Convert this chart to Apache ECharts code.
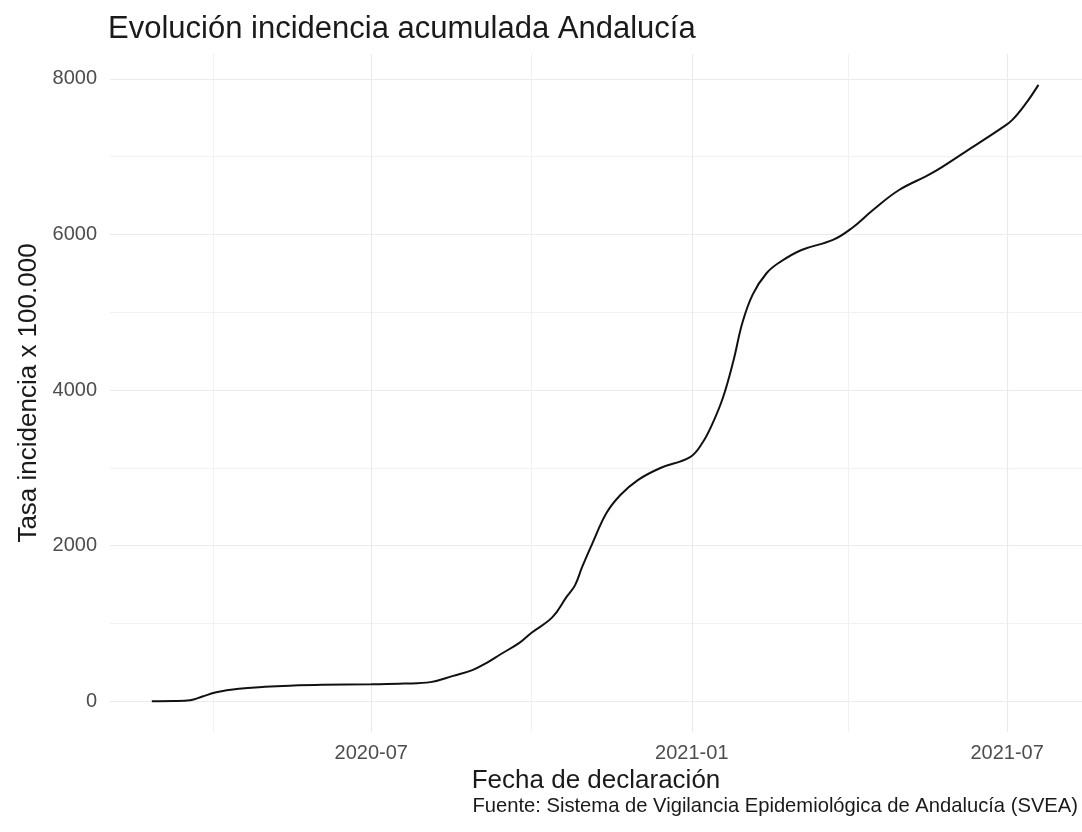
<!DOCTYPE html>
<html>
<head>
<meta charset="utf-8">
<script src="https://cdn.jsdelivr.net/npm/echarts@6/dist/echarts.min.js"></script>
<style>
html,body{margin:0;padding:0;background:#ffffff;}
#chart{width:1082px;height:832px;}
</style>
</head>
<body>
<div id="chart"></div>
<script>
// ---- data ----
const dates = [
  '2020-02-26','2020-03-10','2020-03-19','2020-03-26','2020-04-03','2020-04-16',
  '2020-05-01','2020-05-15','2020-06-03','2020-07-01','2020-07-20','2020-08-04',
  '2020-08-17','2020-08-28','2020-09-05','2020-09-13','2020-09-24','2020-10-01',
  '2020-10-13','2020-10-21','2020-10-26','2020-10-30','2020-11-05','2020-11-13',
  '2020-11-21','2020-12-01','2020-12-14','2020-12-31','2021-01-07','2021-01-13',
  '2021-01-19','2021-01-25','2021-01-30','2021-02-05','2021-02-13','2021-02-21',
  '2021-03-05','2021-03-23','2021-04-03','2021-04-15','2021-04-30','2021-05-19',
  '2021-06-07','2021-06-28','2021-07-04','2021-07-12','2021-07-19'
];
const values = [
  0, 2, 12, 60, 115, 160,
  185, 200, 212, 218, 226, 245,
  325, 400, 490, 600, 750, 880,
  1080, 1337, 1492, 1723, 2032, 2418,
  2650, 2842, 2997, 3138, 3318, 3575,
  3910, 4386, 4861, 5230, 5504, 5650,
  5800, 5929, 6083, 6314, 6571, 6790,
  7062, 7369, 7472, 7690, 7922
];
const yTickValues = [0, 2000, 4000, 6000, 8000];
const yMinorValues = [1000, 3000, 5000, 7000];
const xTickDates = ['2020-07-01', '2021-01-01', '2021-07-01'];
const xMinorDates = ['2020-04-01', '2020-10-01', '2021-04-01'];
const titleText = 'Evolución incidencia acumulada Andalucía';
const xTitle = 'Fecha de declaración';
const yTitle = 'Tasa incidencia x 100.000';
const captionText = 'Fuente: Sistema de Vigilancia Epidemiológica de Andalucía (SVEA)';

// ---- helpers ----
function ts(s) { const p = s.split('-').map(Number); return new Date(p[0], p[1] - 1, p[2]).getTime(); }
function fmtYM(v) { const d = new Date(v); return d.getFullYear() + '-' + String(d.getMonth() + 1).padStart(2, '0'); }

const seriesData = dates.map((d, i) => [ts(d), values[i]]);
const FONT = 'Liberation Sans, Arial, sans-serif';
const GRID = '#ebebeb';

const gridLines = []
  .concat(yTickValues.map(v => ({ yAxis: v, lineStyle: { color: GRID, width: 1.2, type: 'solid' } })))
  .concat(yMinorValues.map(v => ({ yAxis: v, lineStyle: { color: '#f1f1f1', width: 1, type: 'solid' } })))
  .concat(xTickDates.map(d => ({ xAxis: ts(d), lineStyle: { color: GRID, width: 1.2, type: 'solid' } })))
  .concat(xMinorDates.map(d => ({ xAxis: ts(d), lineStyle: { color: '#f1f1f1', width: 1, type: 'solid' } })));

const chart = echarts.init(document.getElementById('chart'), null, { renderer: 'canvas' });
chart.setOption({
  backgroundColor: '#ffffff',
  animation: false,
  textStyle: { fontFamily: FONT },
  title: [
    { text: titleText, left: 108, top: 14, padding: 0,
      textStyle: { fontFamily: FONT, fontSize: 31, fontWeight: 'normal', color: '#1a1a1a' } },
    { text: captionText, right: 4, top: 796, padding: 0,
      textStyle: { fontFamily: FONT, fontSize: 20.2, fontWeight: 'normal', color: '#1a1a1a' } }
  ],
  grid: { left: 110, right: 0, top: 54, bottom: 100, containLabel: false },
  xAxis: {
    type: 'value',
    min: ts('2020-02-02'),
    max: ts('2021-08-13'),
    name: xTitle,
    nameLocation: 'middle',
    nameGap: 33,
    nameTextStyle: { fontFamily: FONT, fontSize: 26, color: '#1a1a1a' },
    axisLine: { show: false },
    axisTick: { show: false },
    splitLine: { show: false },
    axisLabel: {
      customValues: xTickDates.map(ts),
      formatter: fmtYM,
      fontFamily: FONT, fontSize: 20, color: '#4d4d4d', margin: 11
    }
  },
  yAxis: {
    type: 'value',
    min: -396,
    max: 8319,
    name: yTitle,
    nameLocation: 'middle',
    nameGap: 68,
    nameTextStyle: { fontFamily: FONT, fontSize: 26, color: '#1a1a1a' },
    axisLine: { show: false },
    axisTick: { show: false },
    splitLine: { show: false },
    axisLabel: {
      customValues: yTickValues,
      formatter: v => String(v),
      fontFamily: FONT, fontSize: 20, color: '#4d4d4d', margin: 13
    }
  },
  series: [
    {
      type: 'line', data: [], z: 1, silent: true,
      markLine: { silent: true, symbol: ['none', 'none'], label: { show: false }, animation: false, data: gridLines }
    },
    {
      type: 'line', data: seriesData, z: 5,
      showSymbol: false, symbol: 'none',
      smooth: 0.4,
      lineStyle: { color: '#111111', width: 2 }
    }
  ]
});
</script>
</body>
</html>
